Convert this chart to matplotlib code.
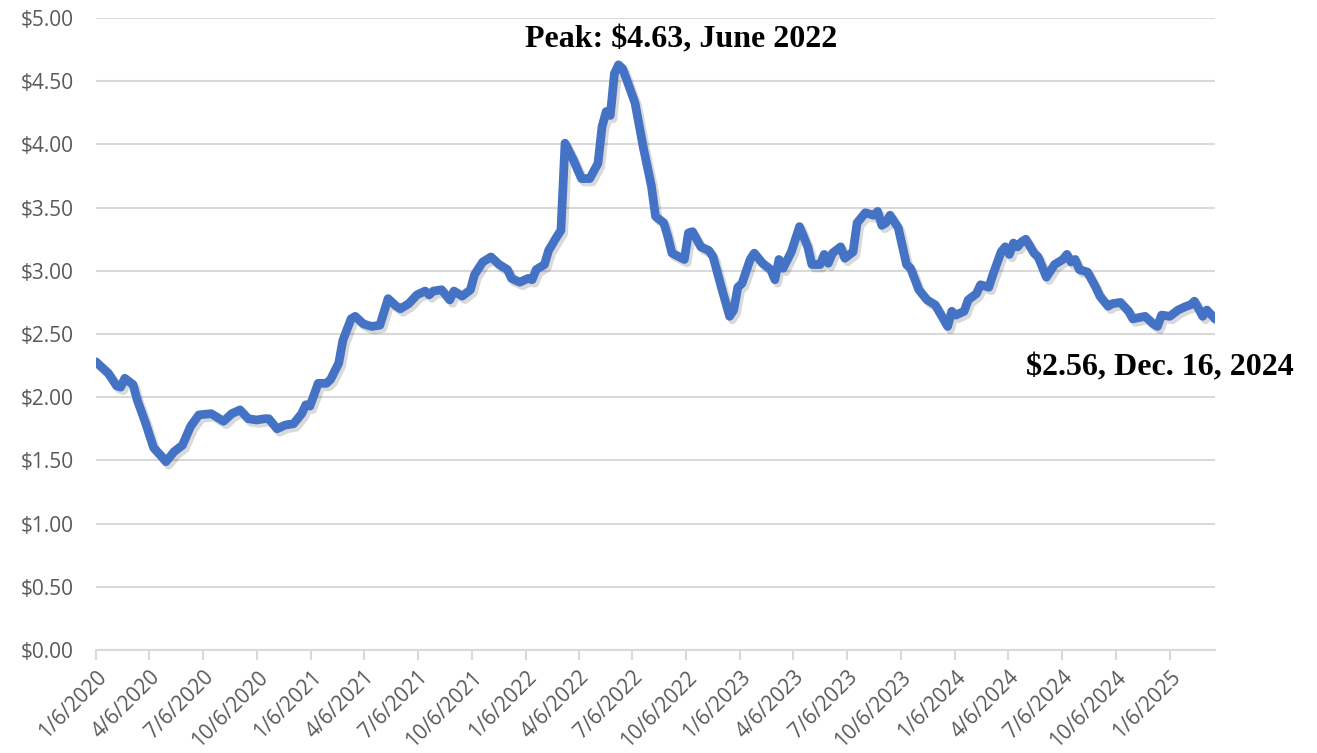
import matplotlib
matplotlib.use("Agg")
import matplotlib.pyplot as plt
import matplotlib.patheffects as pe
import numpy as np
import pandas as pd

start = pd.Timestamp("2020-01-06")

# weeks after 1/6/2020 and weekly price
weeks = [0, 1, 3, 5, 6, 7, 9, 10, 12, 14, 16, 17, 19, 21, 23, 25, 28, 29, 31, 33,
         35, 37, 39, 41, 42, 44, 46, 48, 50, 51, 52, 54, 56, 57, 59, 60, 62, 63, 65, 67,
         69, 71, 73, 74, 76, 78, 80, 81, 82, 84, 86, 87, 89, 91, 92, 94, 96, 98, 100, 101,
         103, 105, 106, 107, 109, 110, 112, 113, 114, 116, 118, 120, 122, 123, 124, 125, 126, 127, 128, 131,
         133, 135, 136, 138, 139, 140, 143, 144, 145, 147, 149, 150, 152, 154, 155, 156, 157, 159, 160, 162,
         164, 165, 166, 167, 169, 171, 173, 174, 176, 177, 178, 179, 181, 182, 184, 185, 187, 189, 190, 191,
         192, 193, 195, 197, 198, 200, 202, 204, 207, 208, 209, 211, 212, 214, 215, 217, 218, 220, 221, 222,
         223, 224, 225, 226, 228, 229, 231, 233, 235, 236, 237, 238, 239, 241, 243, 244, 246, 247, 249, 251,
         252, 255, 257, 258, 259, 261, 263, 265, 266, 267, 269, 270, 272]
prices = [2.28, 2.25, 2.19, 2.09, 2.08, 2.15, 2.10, 1.98, 1.80, 1.60, 1.53, 1.49, 1.57, 1.62, 1.77, 1.86, 1.87, 1.85, 1.81, 1.87,
          1.90, 1.83, 1.82, 1.83, 1.83, 1.75, 1.78, 1.79, 1.87, 1.94, 1.93, 2.11, 2.11, 2.14, 2.27, 2.45, 2.62, 2.64, 2.58, 2.56,
          2.57, 2.78, 2.72, 2.70, 2.74, 2.81, 2.84, 2.81, 2.84, 2.85, 2.77, 2.84, 2.80, 2.85, 2.97, 3.07, 3.11, 3.05, 3.01, 2.94,
          2.91, 2.94, 2.93, 3.01, 3.05, 3.16, 3.27, 3.32, 4.01, 3.88, 3.73, 3.73, 3.85, 4.14, 4.26, 4.23, 4.56, 4.63, 4.60, 4.33,
          3.98, 3.67, 3.43, 3.38, 3.27, 3.14, 3.09, 3.30, 3.31, 3.19, 3.16, 3.11, 2.87, 2.64, 2.69, 2.87, 2.90, 3.09, 3.14, 3.06,
          3.01, 2.93, 3.09, 3.02, 3.15, 3.35, 3.19, 3.05, 3.05, 3.13, 3.06, 3.14, 3.19, 3.10, 3.15, 3.38, 3.46, 3.44, 3.47, 3.36,
          3.38, 3.44, 3.34, 3.05, 3.02, 2.85, 2.77, 2.73, 2.56, 2.68, 2.65, 2.68, 2.77, 2.82, 2.89, 2.87, 2.97, 3.15, 3.19, 3.13,
          3.22, 3.19, 3.23, 3.25, 3.14, 3.11, 2.95, 3.05, 3.09, 3.13, 3.07, 3.09, 3.01, 2.99, 2.87, 2.80, 2.72, 2.74, 2.75, 2.68,
          2.62, 2.64, 2.58, 2.56, 2.65, 2.64, 2.69, 2.72, 2.73, 2.76, 2.64, 2.69, 2.62]

tick_dates = pd.date_range("2020-01-01", "2025-01-01", freq="3MS") + pd.Timedelta(days=5)
peak_label = "Peak: $4.63, June 2022"
low_label = "$2.56, Dec. 16, 2024"

dates = start + pd.to_timedelta(np.array(weeks) * 7, unit="D")

fig = plt.figure(figsize=(13.17, 7.53), dpi=100)
ax = fig.add_axes([0.0729, 0.1368, 0.8497, 0.8392])

ax.plot(dates, prices, color="#4472C4", lw=6.3, solid_capstyle="round", solid_joinstyle="round",
        path_effects=[pe.SimpleLineShadow(offset=(2, -2.5), shadow_color="#000000", alpha=0.15),
                      pe.Normal()], zorder=3)

ax.set_ylim(0, 5)
ax.set_yticks(np.arange(0, 5.01, 0.5))
ax.set_yticklabels(["${:.2f}".format(v) for v in np.arange(0, 5.01, 0.5)])
ax.set_xlim(dates[0], dates[-1])
ax.set_xticks(tick_dates)
ax.set_xticklabels(["{}/{}/{}".format(d.month, d.day, d.year) for d in tick_dates],
                   rotation=45, ha="right", rotation_mode="anchor")

ax.grid(axis="y", color="#d9d9d9", lw=1.5, zorder=0)
for s in ["left", "top", "right"]:
    ax.spines[s].set_visible(False)
ax.spines["bottom"].set_color("#d9d9d9")
ax.spines["bottom"].set_linewidth(1.5)
ax.tick_params(axis="y", length=0, pad=16, labelsize=15, labelcolor="#595959")
ax.tick_params(axis="x", length=7, width=1.5, color="#d9d9d9", direction="out",
               pad=5, labelsize=15, labelcolor="#595959")
for lab in ax.get_xticklabels() + ax.get_yticklabels():
    lab.set_fontfamily("Open Sans")

ax.text(start + pd.Timedelta(weeks=142.3), 4.83, peak_label, ha="center", va="center",
        fontsize=23, fontweight="bold", family="Liberation Serif")
ax.text(start + pd.Timedelta(weeks=258.7), 2.23, low_label, ha="center", va="center",
        fontsize=23, fontweight="bold", family="Liberation Serif", clip_on=False)

fig.savefig("out.png", dpi=100)
